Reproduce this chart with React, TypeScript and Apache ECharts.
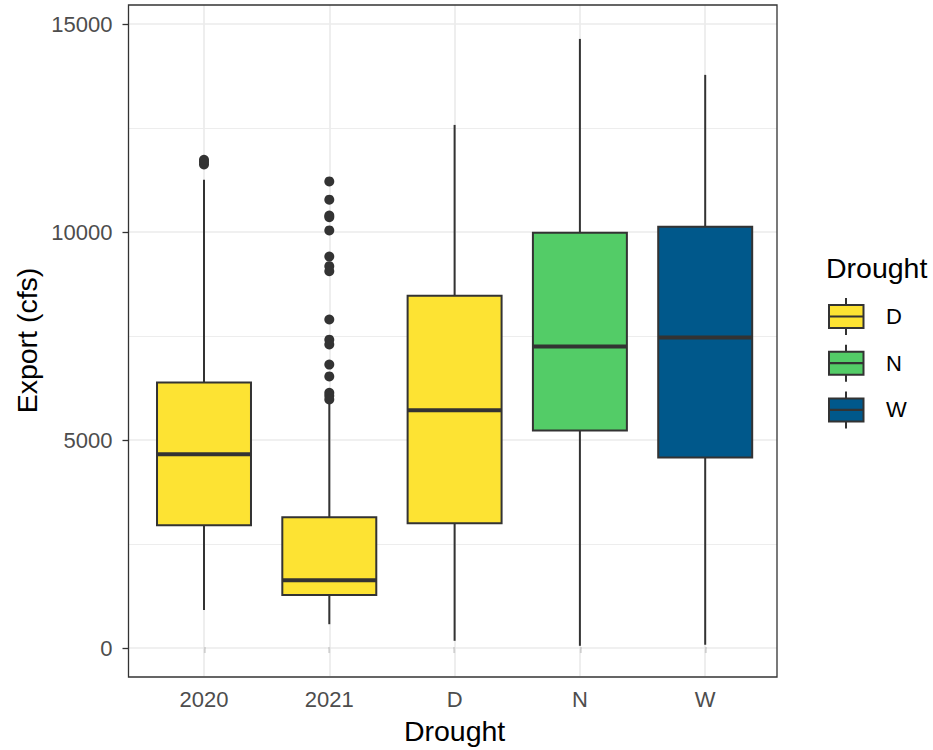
import React, { useEffect, useRef } from "react";
import * as echarts from "echarts";

// ---- data ----
const categories = ["2020", "2021", "D", "N", "W"];
const whiskerLow = [890, 550, 150, 30, 55];
const q1 = [2930, 1255, 2980, 5215, 4565];
const median = [4640, 1610, 5700, 7235, 7450];
const q3 = [6370, 3125, 8460, 9975, 10120];
const whiskerHigh = [11250, 5900, 12570, 14640, 13775];
const outliers2020 = [11620, 11680, 11730];
const outliers2021 = [
  11210, 10770, 10390, 10350, 10030, 9400, 9170, 9050, 7885, 7400, 7285, 6800,
  6515, 6120, 6050, 5960,
];
const catGroup = [0, 0, 0, 1, 2]; // index into legend groups
const legendLabels = ["D", "N", "W"];
const groupColors = ["#FDE333", "#53CC67", "#00588B"];
const yTicks = [0, 5000, 10000, 15000];

const FONT = "Liberation Sans, Arial, sans-serif";
const DARK = "#333333";
const GRID_COL = "#EBEBEB";

export default function App() {
  const ref = useRef<HTMLDivElement>(null);

  useEffect(() => {
    if (!ref.current) return;
    const chart = echarts.init(ref.current, null, { renderer: "svg" });

    const boxData = categories.map((c, i) => [
      i,
      whiskerLow[i],
      q1[i],
      median[i],
      q3[i],
      whiskerHigh[i],
      catGroup[i],
    ]);
    const outlierData: number[][] = [];
    outliers2020.forEach((v) => outlierData.push([0, v]));
    outliers2021.forEach((v) => outlierData.push([1, v]));

    // legend graphic
    const legendEls: any[] = [
      {
        type: "text",
        left: 826,
        top: 253,
        style: { text: "Drought", font: `28.5px ${FONT}`, fill: "#000" },
      },
    ];
    legendLabels.forEach((lab, i) => {
      const cy = 316.5 + 46.7 * i;
      legendEls.push({
        type: "line",
        shape: { x1: 846, y1: cy - 18.5, x2: 846, y2: cy + 18.5 },
        style: { stroke: DARK, lineWidth: 2 },
      });
      legendEls.push({
        type: "rect",
        shape: { x: 829, y: cy - 11.5, width: 34.5, height: 23 },
        style: { fill: groupColors[i], stroke: DARK, lineWidth: 2 },
      });
      legendEls.push({
        type: "line",
        shape: { x1: 829, y1: cy, x2: 863.5, y2: cy },
        style: { stroke: DARK, lineWidth: 2.2 },
      });
      legendEls.push({
        type: "text",
        x: 886,
        y: cy,
        style: {
          text: lab,
          font: `22px ${FONT}`,
          fill: "#000",
          verticalAlign: "middle",
          align: "left",
        },
      });
    });

    const option: any = {
      animation: false,
      backgroundColor: "#ffffff",
      textStyle: { fontFamily: FONT },
      grid: [
        // 0: horizontal gridlines + y ticks
        { left: 128.5, right: 156, top: 24, bottom: 102 },
        // 1: data grid (category centers)
        { left: 141.35, right: 165.15, top: 5, bottom: 73 },
        // 2: panel border
        {
          left: 128.5,
          right: 156,
          top: 5,
          bottom: 73,
          show: true,
          borderColor: DARK,
          borderWidth: 1.3,
          backgroundColor: "transparent",
          z: 3,
        },
      ],
      xAxis: [
        { gridIndex: 0, type: "value", min: 0, max: 1, show: false },
        {
          gridIndex: 1,
          type: "category",
          data: categories,
          boundaryGap: true,
          axisLine: { show: false },
          axisTick: {
            show: true,
            alignWithLabel: true,
            length: 6,
            lineStyle: { color: DARK, width: 1.3 },
          },
          axisLabel: {
            color: "#4D4D4D",
            fontSize: 22,
            fontFamily: FONT,
            margin: 12,
          },
          splitLine: { show: false },
          name: "Drought",
          nameLocation: "middle",
          nameGap: 40,
          nameTextStyle: { fontSize: 28.5, color: "#000", fontFamily: FONT },
        },
        { gridIndex: 2, type: "value", min: 0, max: 1, show: false },
      ],
      yAxis: [
        {
          gridIndex: 0,
          type: "value",
          min: yTicks[0],
          max: yTicks[yTicks.length - 1],
          interval: 5000,
          axisLine: { show: false },
          axisTick: {
            show: true,
            length: 6,
            lineStyle: { color: DARK, width: 1.3 },
          },
          axisLabel: {
            color: "#4D4D4D",
            fontSize: 22,
            fontFamily: FONT,
            margin: 16,
            formatter: (v: number) => String(v),
          },
          splitLine: { show: true, lineStyle: { color: GRID_COL, width: 1.7 } },
          minorTick: { show: false, splitNumber: 2 },
          minorSplitLine: {
            show: true,
            lineStyle: { color: GRID_COL, width: 0.9 },
          },
        },
        {
          gridIndex: 1,
          type: "value",
          min: -697,
          max: 15457,
          axisLine: { show: false },
          axisTick: { show: false },
          axisLabel: { show: false },
          splitLine: { show: false },
          name: "Export (cfs)",
          nameLocation: "middle",
          nameGap: 100,
          nameRotate: 90,
          nameTextStyle: { fontSize: 28.5, color: "#000", fontFamily: FONT },
        },
        { gridIndex: 2, type: "value", min: 0, max: 1, show: false },
      ],
      series: [
        {
          type: "custom",
          xAxisIndex: 1,
          yAxisIndex: 1,
          z: 2,
          encode: { x: 0, y: [1, 2, 3, 4, 5] },
          data: boxData,
          renderItem: (params: any, api: any) => {
            const x = api.value(0);
            const lo = api.coord([x, api.value(1)]);
            const b1 = api.coord([x, api.value(2)]);
            const md = api.coord([x, api.value(3)]);
            const b3 = api.coord([x, api.value(4)]);
            const hi = api.coord([x, api.value(5)]);
            const w = api.size([1, 0])[0] * 0.75;
            const fill = groupColors[api.value(6)];
            const cx = lo[0];
            return {
              type: "group",
              children: [
                {
                  type: "line",
                  shape: { x1: cx, y1: lo[1], x2: cx, y2: b1[1] },
                  style: { stroke: DARK, lineWidth: 2 },
                },
                {
                  type: "line",
                  shape: { x1: cx, y1: b3[1], x2: cx, y2: hi[1] },
                  style: { stroke: DARK, lineWidth: 2 },
                },
                {
                  type: "rect",
                  shape: {
                    x: cx - w / 2,
                    y: b3[1],
                    width: w,
                    height: b1[1] - b3[1],
                  },
                  style: { fill, stroke: DARK, lineWidth: 2 },
                },
                {
                  type: "line",
                  shape: { x1: cx - w / 2, y1: md[1], x2: cx + w / 2, y2: md[1] },
                  style: { stroke: DARK, lineWidth: 4 },
                },
              ],
            };
          },
        },
        {
          type: "scatter",
          xAxisIndex: 1,
          yAxisIndex: 1,
          z: 3,
          symbol: "circle",
          symbolSize: 10,
          itemStyle: { color: DARK, opacity: 1 },
          data: outlierData,
          markLine: {
            silent: true,
            z: 1,
            symbol: ["none", "none"],
            label: { show: false },
            lineStyle: { color: GRID_COL, width: 1.7, type: "solid" },
            data: categories.map((c) => ({ xAxis: c })),
          },
        },
      ],
      graphic: legendEls,
    };

    chart.setOption(option);
    return () => chart.dispose();
  }, []);

  return (
    <div
      ref={ref}
      style={{ position: "fixed", left: 0, top: 0, width: 933, height: 750 }}
    />
  );
}
